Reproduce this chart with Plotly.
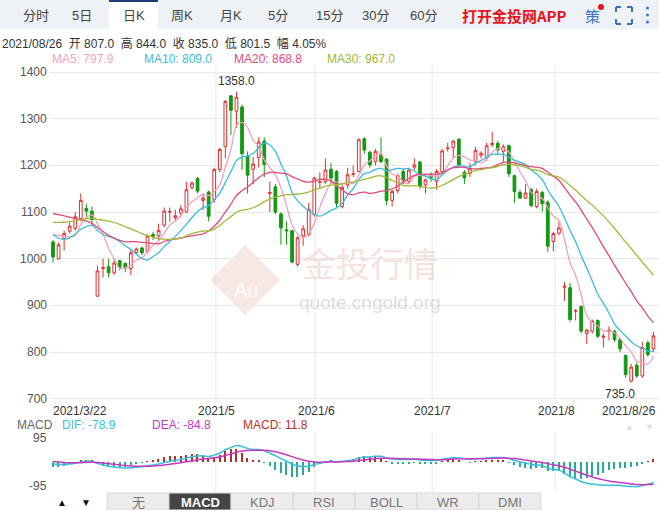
import plotly.graph_objects as go
import numpy as np

# ---------------- data ----------------
pre_close = [1032,1045,1028,1050,1041,1036,1055,1048,1030,1035,
             1080,1105,1130,1150,1170,1162,1175,1160,1148,1140,
             1110,1075,1040,1010,1020,1045,1060,1080,1076]
opens  = [1036,1000,1043,1059,1065,1086,1108,1102,920,979,983,970,996,990,979,1013,1023,1016,1052,1049,
          1072,1100,1088,1098,1100,1152,1172,1125,1143,1127,1191,1240,1349,1316,1325,1220,1192,1217,1252,1140,
          1154,1096,1062,1060,988,1049,1052,1095,1164,1165,1192,1187,1112,1158,1181,1187,1257,1228,1208,1222,
          1213,1125,1146,1187,1166,1196,1207,1158,1180,1166,1187,1236,1238,1256,1185,1183,1208,1222,1216,1244,
          1247,1230,1242,1178,1142,1130,1148,1112,1142,1121,1037,1055,939,938,888,898,840,845,868,832,
          845,845,827,793,738,772,749,820,807]
highs  = [1040,1035,1060,1078,1100,1140,1118,1112,985,1000,1000,1000,998,992,1020,1024,1026,1052,1058,1075,
          1110,1110,1105,1115,1165,1166,1175,1140,1146,1195,1238,1340,1350,1358,1330,1230,1218,1260,1260,1165,
          1160,1100,1080,1062,1048,1072,1120,1175,1185,1215,1205,1190,1158,1195,1200,1258,1260,1232,1235,1260,
          1216,1148,1182,1192,1195,1215,1210,1172,1185,1192,1235,1248,1255,1258,1190,1205,1240,1230,1248,1272,
          1252,1245,1245,1180,1148,1160,1152,1150,1146,1125,1058,1080,950,948,893,900,850,870,870,840,
          855,848,830,795,775,778,822,825,844]
lows   = [992,998,1018,1055,1060,1080,1090,1070,918,960,960,965,975,972,965,1010,1008,1012,1040,1040,
          1068,1080,1080,1090,1098,1148,1140,1105,1080,1120,1185,1215,1265,1280,1190,1140,1160,1195,1175,1100,
          1095,1030,1030,990,983,1028,1048,1090,1150,1160,1160,1110,1108,1150,1175,1185,1225,1195,1200,1205,
          1115,1112,1140,1160,1160,1190,1150,1140,1165,1148,1185,1230,1215,1195,1160,1175,1200,1215,1210,1240,
          1225,1208,1175,1120,1128,1128,1110,1108,1100,1015,1016,1050,910,865,868,840,818,840,830,810,
          825,822,800,745,735,745,745,790,801.5]
closes = [1004,1030,1054,1070,1090,1125,1102,1084,974,981,970,991,982,980,1013,1021,1013,1049,1048,1061,
          1102,1101,1092,1107,1148,1162,1145,1130,1091,1191,1234,1337,1318,1346,1225,1179,1203,1250,1202,1142,
          1100,1066,1060,993,1045,1064,1106,1173,1165,1190,1173,1119,1153,1180,1182,1255,1233,1201,1230,1208,
          1125,1144,1178,1169,1190,1201,1156,1169,1173,1187,1231,1237,1252,1201,1173,1194,1232,1226,1242,1247,
          1233,1240,1182,1144,1130,1141,1114,1144,1118,1027,1054,1066,941,870,889,845,847,866,834,834,
          847,827,807,752,768,749,810,795,835]
x_labels = ["2021/3/22", "2021/5", "2021/6", "2021/7", "2021/8", "2021/8/26"]
y_ticks = [700, 800, 900, 1000, 1100, 1200, 1300, 1400]
tabs_top = ["分时", "5日", "日K", "周K", "月K", "5分", "15分", "30分", "60分"]
tabs_bottom = ["无", "MACD", "KDJ", "RSI", "BOLL", "WR", "DMI"]

n = len(closes)
xs = list(range(n))
allc = np.array(pre_close + closes, float)
P = len(pre_close)

def ma(k):
    return [allc[P + i - k + 1:P + i + 1].mean() for i in range(n)]

def ema(a, k):
    out = [a[0]]
    al = 2 / (k + 1)
    for v in a[1:]:
        out.append(out[-1] * (1 - al) + v * al)
    return np.array(out)

dif = ema(allc, 12) - ema(allc, 26)
dea = ema(dif, 9)
hist = 2 * (dif - dea)
dif, dea, hist = dif[P:], dea[P:], hist[P:]

# ---------------- figure ----------------
FONT = "Liberation Sans, Arial, Noto Sans CJK SC"
W, H = 659, 510
def py(p):
    return 1 - p / H
def px(p):
    return p / W

fig = go.Figure()
MA_COL = {"MA5": "#f2a3bb", "MA10": "#3cbcdc", "MA20": "#e04a7c", "MA30": "#a2b83a"}

fig.add_trace(go.Candlestick(x=xs, open=opens, high=highs, low=lows, close=closes,
    increasing=dict(line=dict(color="#e03030", width=1), fillcolor="#ffffff"),
    decreasing=dict(line=dict(color="#119911", width=1), fillcolor="#119911"),
    whiskerwidth=0, xaxis="x", yaxis="y", hoverinfo="skip"))
for name, k in [("MA5", 5), ("MA10", 10), ("MA20", 20), ("MA30", 30)]:
    fig.add_trace(go.Scatter(x=xs, y=ma(k), mode="lines", line=dict(color=MA_COL[name], width=1.3, shape="spline"),
                             xaxis="x", yaxis="y", hoverinfo="skip"))

fig.add_trace(go.Bar(x=xs, y=hist, width=0.25,
                     marker=dict(color=["#b03028" if h >= 0 else "#2aa89a" for h in hist], line_width=0),
                     xaxis="x2", yaxis="y2", hoverinfo="skip"))
fig.add_trace(go.Scatter(x=xs, y=dif, mode="lines", line=dict(color="#38bfe0", width=1.5, shape="spline"),
                         xaxis="x2", yaxis="y2", hoverinfo="skip"))
fig.add_trace(go.Scatter(x=xs, y=dea, mode="lines", line=dict(color="#c23bc0", width=1.5, shape="spline"),
                         xaxis="x2", yaxis="y2", hoverinfo="skip"))

xr = [-0.54, 109.0]
fig.update_layout(
    width=W, height=H, margin=dict(l=0, r=0, t=0, b=0), showlegend=False,
    paper_bgcolor="white", plot_bgcolor="white", font=dict(family=FONT, size=12, color="#333"),
    bargap=0,
    xaxis=dict(domain=[px(50), 1], range=xr, showgrid=False, showticklabels=False, zeroline=False,
               rangeslider=dict(visible=False), fixedrange=True),
    yaxis=dict(domain=[py(404), py(65)], range=[689, 1415], tickvals=y_ticks, gridcolor="#e8e8e8",
               showticklabels=False, zeroline=False),
    xaxis2=dict(domain=[px(50), 1], range=xr, showgrid=False, showticklabels=False, zeroline=False, anchor="y2"),
    yaxis2=dict(domain=[py(492), py(432)], range=[-118.75, 118.75], tickvals=[-118.75, 118.75],
                gridcolor="#e8e8e8", showticklabels=False, zeroline=False, anchor="x2"),
)

shapes = []
ann = []
def A(x, y, text, size=12, color="#333", xanchor="center", yanchor="middle", xref="paper", yref="paper", **kw):
    ann.append(dict(x=x, y=y, xref=xref, yref=yref, text=text, showarrow=False, xanchor=xanchor,
                    yanchor=yanchor, font=dict(size=size, color=color, **kw.pop("fontkw", {})), **kw))

for xi in [29.3, 47.1, 68.2, 90.3]:
    shapes.append(dict(type="line", xref="x", yref="paper", x0=xi, x1=xi, y0=py(404), y1=py(65),
                       line=dict(color="#e8e8e8", width=1), layer="below"))
    shapes.append(dict(type="line", xref="x", yref="paper", x0=xi, x1=xi, y0=py(492), y1=py(432),
                       line=dict(color="#e8e8e8", width=1), layer="below"))
for v in y_ticks:
    A(px(49), v, str(v), color="#555", xanchor="right", yref="y")
for v, t in [(95, "95"), (-95, "-95")]:
    A(px(49), v, t, color="#555", xanchor="right", yref="y2")
for t, xp, anc in zip(x_labels, [51, 216, 316, 432, 556, 658], ["left", "center", "center", "center", "center", "right"]):
    A(px(xp), py(411), t, xanchor=anc)
A(33, 1358, "1358.0", xref="x", yref="y", yanchor="bottom", yshift=2)
A(104, 735, "735.0", xref="x", yref="y", xanchor="right", yanchor="top", xshift=6, yshift=-2)

# watermark
shapes.append(dict(type="path", xref="paper", yref="paper", layer="below",
                   path=f"M {px(245)} {py(245)} L {px(280)} {py(280)} L {px(245)} {py(315)} L {px(210)} {py(280)} Z",
                   fillcolor="rgba(235,190,180,0.35)", line=dict(width=0)))
A(px(246), py(290), "Au", size=20, color="rgba(255,255,255,0.9)")
A(px(370), py(262), "金投行情", size=34, color="rgba(235,190,180,0.45)", fontkw=dict(family="Noto Sans CJK SC"))
A(px(370), py(302), "quote.cngold.org", size=19, color="rgba(190,190,190,0.5)")

# top bar
shapes.append(dict(type="rect", xref="paper", yref="paper", x0=0, x1=1, y0=py(29), y1=1,
                   fillcolor="#eef1f6", line=dict(width=0), layer="below"))
shapes.append(dict(type="rect", xref="paper", yref="paper", x0=px(109), x1=px(158), y0=py(29), y1=1,
                   fillcolor="#ffffff", line=dict(width=0), layer="below"))
shapes.append(dict(type="line", xref="paper", yref="paper", x0=px(109), x1=px(158), y0=py(1), y1=py(1),
                   line=dict(color="#1e3a78", width=2)))
for t, xp in zip(tabs_top, [36, 82, 134, 182, 231, 278, 329, 375, 424]):
    A(px(xp), py(15), t, size=13, color="#444")
A(px(514), py(15), "<b>打开金投网APP</b>", size=15, color="#e8141c", fontkw=dict(family="Noto Sans CJK SC"))
A(px(592), py(15), "策", size=15, color="#3d6fc4", fontkw=dict(family="Noto Sans CJK SC"))
shapes.append(dict(type="circle", xref="paper", yref="paper", x0=px(598), x1=px(604), y0=py(10), y1=py(4),
                   fillcolor="#e8141c", line=dict(width=0)))
for (a, b, c, d) in [(616, 7, 621, 7), (616, 7, 616, 12), (627, 7, 632, 7), (632, 7, 632, 12),
                     (616, 24, 621, 24), (616, 19, 616, 24), (627, 24, 632, 24), (632, 19, 632, 24)]:
    shapes.append(dict(type="line", xref="paper", yref="paper", x0=px(a), x1=px(c), y0=py(b), y1=py(d),
                       line=dict(color="#3d6fc4", width=2)))
for yy in [8, 15, 22]:
    shapes.append(dict(type="circle", xref="paper", yref="paper", x0=px(646), x1=px(649), y0=py(yy + 1.5), y1=py(yy - 1.5),
                       fillcolor="#3d6fc4", line=dict(width=0)))

A(0, py(43), "2021/08/26  开 807.0  高 844.0  收 835.0  低 801.5  幅 4.05%", xanchor="left")
for (name, xp, txt) in [("MA5", 50, "MA5: 797.9"), ("MA10", 142, "MA10: 809.0"),
                        ("MA20", 232, "MA20: 868.8"), ("MA30", 325, "MA30: 967.0")]:
    A(px(xp), py(59), txt, color=MA_COL[name], xanchor="left")
for txt, xp, col in [("MACD", 15, "#666"), ("DIF: -78.9", 60, "#38bfe0"),
                     ("DEA: -84.8", 150, "#c23bc0"), ("MACD: 11.8", 241, "#c0302a")]:
    A(px(xp), py(425), txt, color=col, xanchor="left")
for txt, xp in [("▲", 629), ("▼", 649)]:
    A(px(xp), py(427), txt, size=9, color="#dddddd")

# bottom tabs
A(px(62), py(502), "▲", size=10, color="#111")
A(px(86), py(502), "▼", size=10, color="#111")
for i, t in enumerate(tabs_bottom):
    x0 = 107 + i * 62
    sel = (t == "MACD")
    shapes.append(dict(type="rect", xref="paper", yref="paper", x0=px(x0), x1=px(x0 + 62), y0=0, y1=py(493),
                       fillcolor="#454545" if sel else "#ececec", line=dict(color="#d8d8d8", width=1)))
    A(px(x0 + 31), py(502), f"<b>{t}</b>" if sel else t, size=13, color="#ffffff" if sel else "#777")

fig.update_layout(shapes=shapes, annotations=ann)
fig.write_html("out.html", config={"displayModeBar": False},
               post_script="document.body.style.margin='0';document.body.style.overflow='hidden';")
